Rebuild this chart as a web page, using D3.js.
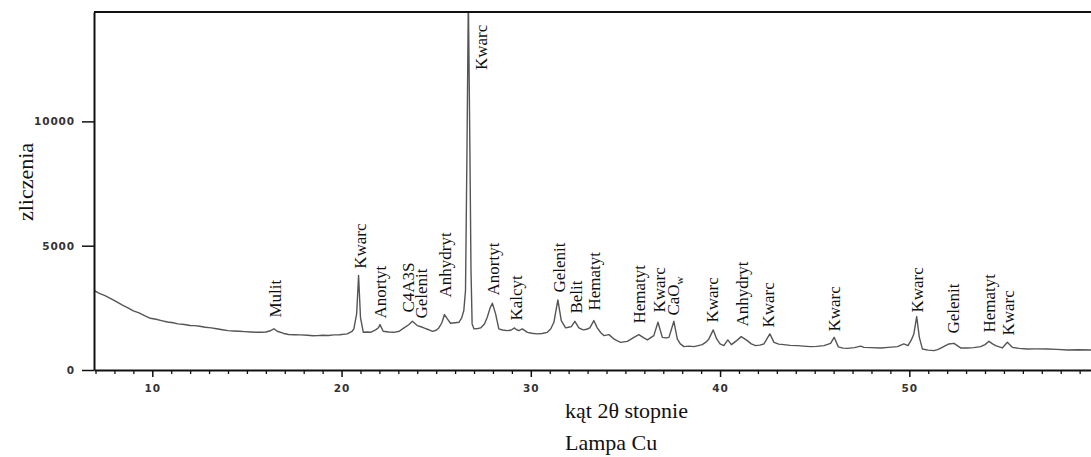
<!DOCTYPE html>
<html>
<head>
<meta charset="utf-8">
<script src="https://cdn.jsdelivr.net/npm/d3@7/dist/d3.min.js"></script>
<style>
  html, body { margin: 0; padding: 0; background: #fff; }
  svg { display: block; }
</style>
</head>
<body>
<div id="chart"></div>
<script>
// diffractogram: angle 2θ (deg) and counts
const angles = [
  6.92, 7.2, 7.5, 7.83, 8.1, 8.4, 8.71, 9.0, 9.3, 9.59, 9.9, 10.2, 10.48, 10.8, 11.1, 11.35,
  11.7, 12.0, 12.24, 12.5, 12.8, 13.12, 13.4, 13.7, 14.0, 14.3, 14.6, 14.88, 15.2, 15.5, 15.76,
  16.0, 16.25, 16.43, 16.6, 16.95, 17.2, 17.5, 17.84, 18.2, 18.5, 18.72, 19.0, 19.3, 19.6, 19.9,
  20.3, 20.55, 20.65, 20.8, 20.9, 21.0, 21.15, 21.35, 21.53, 21.8, 21.95, 22.03, 22.2, 22.5,
  22.77, 23.05, 23.3, 23.55, 23.74, 24.0, 24.2, 24.35, 24.6, 24.8, 25.0, 25.14, 25.3, 25.44,
  25.6, 25.76, 26.0, 26.2, 26.35, 26.46, 26.55, 26.63, 26.7, 26.78, 26.84, 26.9, 27.0, 27.2,
  27.35, 27.55, 27.7, 27.85, 27.97, 28.14, 28.31, 28.5, 28.76, 28.95, 29.14, 29.25, 29.37,
  29.55, 29.82, 30.05, 30.34, 30.6, 30.87, 31.05, 31.22, 31.43, 31.61, 31.84, 32.0, 32.14,
  32.33, 32.54, 32.77, 32.95, 33.12, 33.33, 33.51, 33.7, 33.86, 34.13, 34.39, 34.55, 34.75,
  35.1, 35.45, 35.71, 35.95, 36.16, 36.5, 36.72, 36.95, 37.15, 37.3, 37.56, 37.74, 37.9,
  38.09, 38.35, 38.62, 38.85, 39.06, 39.25, 39.41, 39.64, 39.82, 40.0, 40.2, 40.41, 40.6,
  40.88, 41.12, 41.44, 41.65, 41.88, 42.1, 42.32, 42.63, 42.85, 43.1, 43.37, 43.7, 44.08,
  44.4, 44.78, 45.1, 45.49, 45.84, 46.03, 46.25, 46.5, 46.72, 47.1, 47.43, 47.6, 48.0, 48.48,
  48.9, 49.37, 49.71, 49.93, 50.1, 50.24, 50.39, 50.53, 50.69, 51.0, 51.3, 51.5, 51.74, 52.09,
  52.36, 52.71, 53.07, 53.4, 53.77, 54.0, 54.21, 54.4, 54.56, 54.91, 55.18, 55.44, 55.8,
  56.23, 56.7, 57.29, 57.8, 58.35, 58.9, 59.6
];
const counts = [
  3200, 3080, 2990, 2863, 2750, 2620, 2500, 2380, 2300, 2190, 2080, 2040, 1988, 1930, 1900, 1855,
  1830, 1790, 1786, 1760, 1720, 1693, 1660, 1620, 1585, 1570, 1560, 1544, 1530, 1520, 1516,
  1530, 1580, 1660, 1560, 1470, 1430, 1420, 1411, 1400, 1380, 1383, 1395, 1390, 1411, 1420,
  1451, 1550, 1653, 2270, 3802, 2121, 1516, 1530, 1516, 1613, 1700, 1826, 1556, 1530,
  1516, 1560, 1693, 1820, 1960, 1786, 1740, 1693, 1620, 1556, 1600, 1693, 1900, 2230,
  2050, 1880, 1900, 1920, 2100, 2390, 3200, 9000, 15000, 9000, 4000, 1855, 1653, 1670,
  1693, 1850, 2121, 2500, 2685, 2258, 1653, 1610, 1585, 1600, 1693, 1620, 1585,
  1653, 1516, 1480, 1451, 1470, 1516, 1650, 1920, 2822, 1988, 1693, 1720, 1746,
  1960, 1693, 1613, 1640, 1693, 1988, 1693, 1500, 1383, 1423, 1250, 1180, 1113,
  1153, 1314, 1423, 1300, 1210, 1383, 1920, 1314, 1290, 1314, 1960, 1250, 1050,
  940, 960, 940, 980, 1020, 1120, 1250, 1613, 1250, 1050, 980, 1210, 1020,
  1181, 1343, 1181, 1050, 980, 1000, 1048, 1451, 1113, 1040, 1020, 990, 980,
  960, 940, 950, 980, 1073, 1314, 930, 880, 870, 900, 960, 911, 900, 887,
  910, 940, 1048, 980, 1200, 1451, 2149, 1314, 847, 800, 778, 820, 911, 1048,
  1073, 887, 887, 900, 940, 1020, 1153, 1050, 980, 887, 1113, 911, 870,
  847, 850, 847, 830, 806, 815, 806
];

// phase labels: name, angle of the label column, counts at the foot of the label
const labelNames = [
  "Mulit", "Kwarc", "Anortyt", "C4A3S", "Gelenit", "Anhydryt", "Kwarc", "Anortyt", "Kalcyt",
  "Gelenit", "Belit", "Hematyt", "Hematyt", "Kwarc", "CaO|w", "Kwarc", "Anhydryt", "Kwarc",
  "Kwarc", "Kwarc", "Gelenit", "Hematyt", "Kwarc"
];
const labelAngles = [
  16.51, 21.0, 22.01, 23.49, 24.18, 25.45, 27.35, 28.03, 29.2,
  31.47, 32.37, 33.32, 35.7, 36.75, 37.54, 39.6, 41.18, 42.56,
  46.0, 50.39, 52.29, 54.19, 55.2
];
const labelCounts = [
  2109, 4072, 2068, 2310, 2068, 2915, 12068, 2996, 1988,
  3117, 2270, 2391, 1867, 2310, 2189, 1907, 1746, 1706,
  1544, 2310, 1464, 1504, 1383
];

const yTicks = [0, 5000, 10000];
const xTicks = [10, 20, 30, 40, 50];
const xMinorTicks = d3.range(7, 60).filter((d) => d % 10 !== 0);

const width = 1091;
const height = 457;
const plotLeft = 94, plotRight = 1091, plotTop = 12, plotBottom = 370;

const svg = d3
  .select("#chart")
  .append("svg")
  .attr("width", width)
  .attr("height", height)
  .style("background", "#fff");

const x = d3.scaleLinear().domain([6.92, 59.6]).range([plotLeft, plotRight]);
const y = d3.scaleLinear().domain([0, 14400]).range([plotBottom, plotTop]);

// clip the pattern to the frame
svg
  .append("clipPath")
  .attr("id", "plot-clip")
  .append("rect")
  .attr("x", plotLeft)
  .attr("y", plotTop)
  .attr("width", plotRight - plotLeft)
  .attr("height", plotBottom - plotTop);

const data = angles.map((a, i) => ({ angle: a, count: counts[i] }));

const line = d3
  .line()
  .x((d) => x(d.angle))
  .y((d) => y(d.count));

svg
  .append("path")
  .datum(data)
  .attr("clip-path", "url(#plot-clip)")
  .attr("fill", "none")
  .attr("stroke", "#555")
  .attr("stroke-width", 1.4)
  .attr("stroke-linejoin", "round")
  .attr("d", line);

// top border of the frame
svg
  .append("line")
  .attr("x1", plotLeft)
  .attr("x2", plotRight)
  .attr("y1", plotTop)
  .attr("y2", plotTop)
  .attr("stroke", "#111")
  .attr("stroke-width", 2);

const tickFont = (g) =>
  g
    .selectAll("text")
    .attr("font-family", "DejaVu Sans, sans-serif")
    .attr("font-size", 10.5)
    .attr("font-weight", "bold")
    .attr("letter-spacing", 0.9)
    .attr("fill", "#333");

// y axis
const yAxis = svg
  .append("g")
  .attr("transform", `translate(${plotLeft},0)`)
  .call(
    d3
      .axisLeft(y)
      .tickValues(yTicks)
      .tickFormat(d3.format("d"))
      .tickSize(12)
      .tickPadding(7)
      .tickSizeOuter(0)
  );
yAxis.select(".domain").attr("stroke", "#111").attr("stroke-width", 2);
yAxis.selectAll(".tick line").attr("stroke", "#111").attr("stroke-width", 1.5);
yAxis.call(tickFont);

// x axis, minor ticks first
const xMinor = svg
  .append("g")
  .attr("transform", `translate(0,${plotBottom})`)
  .call(d3.axisBottom(x).tickValues(xMinorTicks).tickSize(4).tickFormat("").tickSizeOuter(0));
xMinor.select(".domain").remove();
xMinor.selectAll(".tick line").attr("stroke", "#111").attr("stroke-width", 1.3);

const xAxis = svg
  .append("g")
  .attr("transform", `translate(0,${plotBottom})`)
  .call(
    d3
      .axisBottom(x)
      .tickValues(xTicks)
      .tickFormat(d3.format("d"))
      .tickSize(7)
      .tickPadding(8)
      .tickSizeOuter(0)
  );
xAxis.select(".domain").attr("stroke", "#111").attr("stroke-width", 2);
xAxis.selectAll(".tick line").attr("stroke", "#111").attr("stroke-width", 1.5);
xAxis.call(tickFont);

// axis titles
svg
  .append("text")
  .attr("transform", "translate(33,182) rotate(-90)")
  .attr("text-anchor", "middle")
  .attr("font-family", "Liberation Serif, Times New Roman, serif")
  .attr("font-size", 22)
  .attr("fill", "#111")
  .text("zliczenia");

const xTitle = svg
  .append("text")
  .attr("font-family", "Liberation Serif, Times New Roman, serif")
  .attr("font-size", 22)
  .attr("fill", "#111");
xTitle.append("tspan").attr("x", 565).attr("y", 418).text("kąt 2θ stopnie");
xTitle.append("tspan").attr("x", 565).attr("y", 450).text("Lampa Cu");

// phase labels, rotated
const labels = labelNames.map((name, i) => ({
  name: name,
  angle: labelAngles[i],
  count: labelCounts[i],
}));

const label = svg
  .append("g")
  .selectAll("text")
  .data(labels)
  .enter()
  .append("text")
  .attr("transform", (d) => `translate(${x(d.angle)},${y(d.count)}) rotate(-90)`)
  .attr("dy", "0.35em")
  .attr("font-family", "Liberation Serif, Times New Roman, serif")
  .attr("font-size", 17)
  .attr("fill", "#111");

label.each(function (d) {
  const parts = d.name.split("|");
  const t = d3.select(this);
  t.append("tspan").text(parts[0]);
  if (parts[1]) {
    t.append("tspan").attr("font-size", 11).attr("dy", 4).text(parts[1]);
  }
});
</script>
</body>
</html>
